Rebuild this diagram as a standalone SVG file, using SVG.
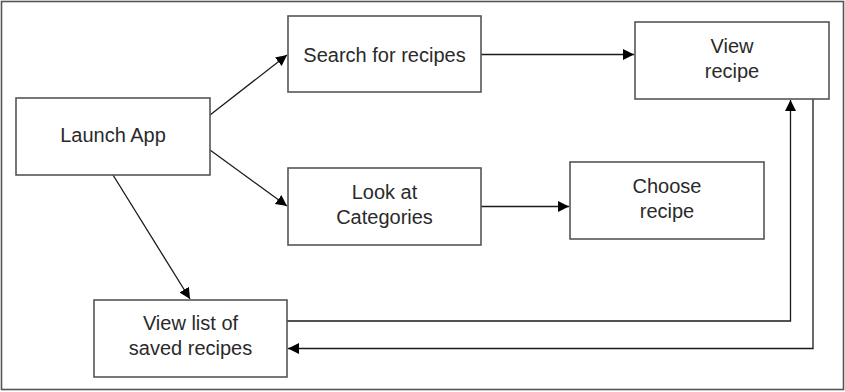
<svg xmlns="http://www.w3.org/2000/svg" width="845" height="392" viewBox="0 0 845 392">
<defs>
<style>
.box{fill:#fff;stroke:#555;stroke-width:1.6}
.lbl{font-family:"Liberation Sans",Arial,sans-serif;font-size:20px;fill:#2a2a2a;text-anchor:middle}
.con{fill:none;stroke:#1a1a1a;stroke-width:1.3}
</style>
<marker id="arr" markerUnits="userSpaceOnUse" markerWidth="12" markerHeight="12" refX="11" refY="5.5" orient="auto">
<path d="M0,0 L11,5.5 L0,11 z" fill="#000"/>
</marker>
</defs>
<rect x="0" y="0" width="845" height="392" fill="#fff"/>
<rect x="1.5" y="1.5" width="842" height="388" fill="none" stroke="#555" stroke-width="1.6"/>
<g id="connectors">
<line class="con" x1="210" y1="115" x2="287" y2="55" marker-end="url(#arr)"/>
<line class="con" x1="210" y1="150" x2="287" y2="206" marker-end="url(#arr)"/>
<line class="con" x1="113" y1="175" x2="190" y2="299" marker-end="url(#arr)"/>
<line class="con" x1="481" y1="54.5" x2="634" y2="54.5" marker-end="url(#arr)"/>
<line class="con" x1="481" y1="206.5" x2="569" y2="206.5" marker-end="url(#arr)"/>
<polyline class="con" points="287,321 790.5,321 790.5,100" marker-end="url(#arr)"/>
<polyline class="con" points="813,99 813,348.5 288,348.5" marker-end="url(#arr)"/>
</g>
<g id="launch">
<rect class="box" x="16" y="98" width="194" height="77"/>
<text class="lbl" x="113" y="142">Launch App</text>
</g>
<g id="search">
<rect class="box" x="288" y="16" width="193" height="76"/>
<text class="lbl" x="384.5" y="61.5">Search for recipes</text>
</g>
<g id="viewrecipe">
<rect class="box" x="635" y="22" width="194" height="77"/>
<text class="lbl" x="732" y="53">View</text>
<text class="lbl" x="732" y="78">recipe</text>
</g>
<g id="categories">
<rect class="box" x="288" y="168" width="193" height="77"/>
<text class="lbl" x="384.5" y="199">Look at</text>
<text class="lbl" x="384.5" y="224">Categories</text>
</g>
<g id="choose">
<rect class="box" x="570" y="162" width="194" height="77"/>
<text class="lbl" x="667" y="193">Choose</text>
<text class="lbl" x="667" y="218">recipe</text>
</g>
<g id="savedlist">
<rect class="box" x="94" y="300" width="193" height="77"/>
<text class="lbl" x="190.5" y="330">View list of</text>
<text class="lbl" x="190.5" y="355">saved recipes</text>
</g>
</svg>
